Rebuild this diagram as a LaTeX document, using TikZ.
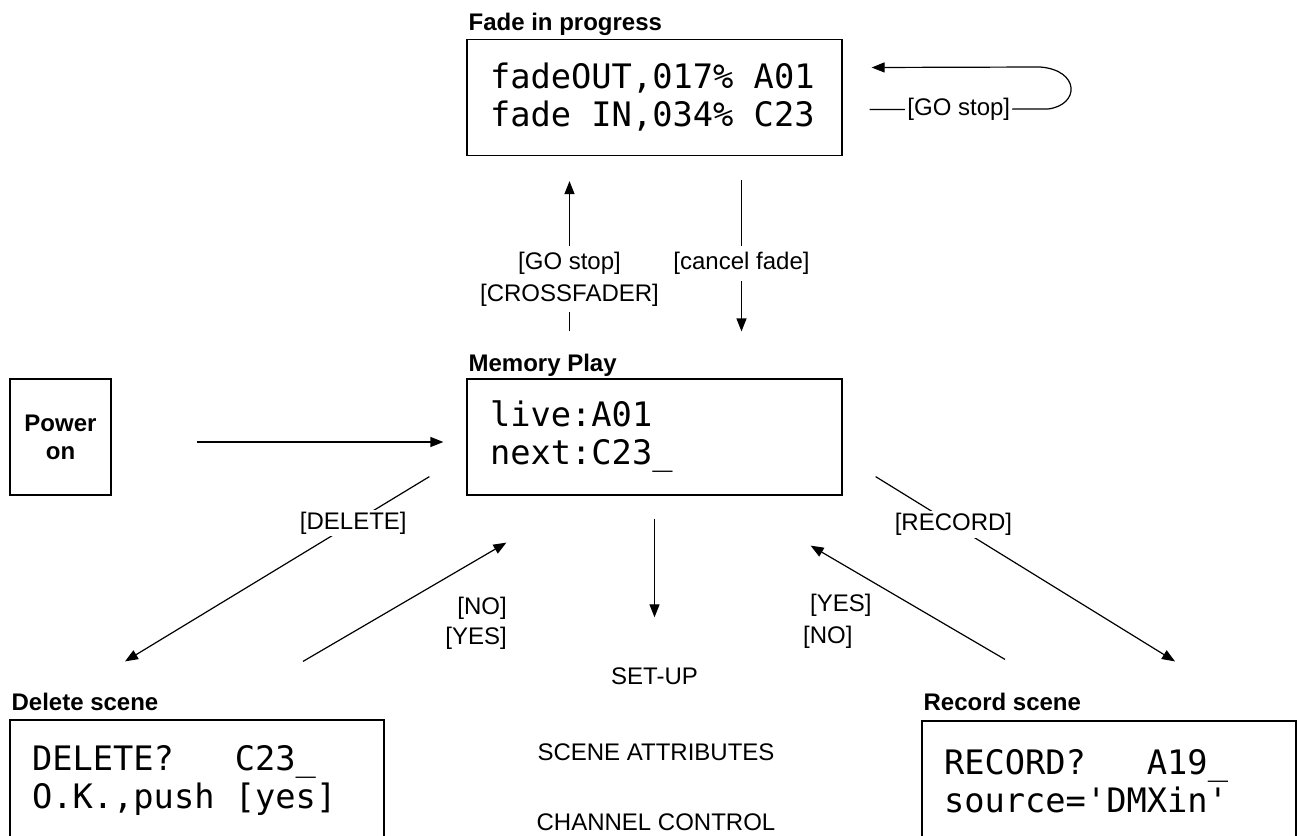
\documentclass[tikz,border=0pt]{standalone}
\usepackage{fontspec}
\setmainfont{Liberation Sans}
\newfontfamily\lcdfont[Ligatures=TeXOff]{DejaVu Sans Mono}
\newcommand{\esp}{\hphantom{0}}
\usetikzlibrary{arrows.meta}

\begin{document}
\begin{tikzpicture}[x=1pt,y=-1pt]
\tikzstyle{tela}=[draw, line width=1.2pt, minimum height=116pt, text width=329pt, inner xsep=23pt, align=left, font=\lcdfont\fontsize{33.7}{38}\selectfont]
\tikzstyle{titulo}=[anchor=base west, inner sep=0pt, font=\bfseries\fontsize{24}{28}\selectfont]
\tikzstyle{rotulo}=[fill=white, inner xsep=2pt, inner ysep=6pt, align=center, font=\fontsize{24}{32}\selectfont]
\tikzstyle{texto}=[inner sep=0pt, font=\fontsize{24}{28}\selectfont]
\tikzstyle{seta}=[line width=1.2pt, -{Triangle[length=13pt,width=10pt]}]
\useasboundingbox (0,0) rectangle (1300,835);

% telas
\node[tela] (fade) at (654.5,97.5) {fadeOUT,017\%\esp A01\\fade\esp IN,034\%\esp C23};
\node[tela] (memoria) at (654.5,437) {live:A01\\next:C23\_};
\node[tela, minimum height=120pt, text width=330pt, inner xsep=22pt] (apagar) at (197,780) {DELETE?\esp\esp\esp C23\_\\O.K.,push\esp[yes]};
\node[tela, minimum height=120pt, text width=330pt, inner xsep=22pt] (gravar) at (1109,781) {RECORD?\esp\esp\esp A19\_\\source='DMXin'};
\node[draw, line width=1.2pt, minimum width=101pt, minimum height=116pt, align=center, font=\bfseries\fontsize{24}{28}\selectfont] (ligar) at (60.5,437) {Power\\on};

% titulos
\node[titulo] (tfade) at ([xshift=2pt,yshift=8pt]fade.north west) {Fade in progress};
\node[titulo] (tmemoria) at ([xshift=2pt,yshift=7pt]memoria.north west) {Memory Play};
\node[titulo] (tapagar) at ([xshift=2pt,yshift=9pt]apagar.north west) {Delete scene};
\node[titulo] (tgravar) at ([xshift=2pt,yshift=10pt]gravar.north west) {Record scene};

% menus
\node[texto] (setup) at (654.5,676) {SET-UP};
\node[texto] (atributos) at (656,752) {SCENE ATTRIBUTES};
\node[texto] (canais) at (656,822) {CHANNEL CONTROL};

% setas
\draw[seta] ([xshift=85pt,yshift=-5pt]ligar.east) -- ([xshift=-23pt,yshift=-5pt]memoria.west);
\draw[seta] ([xshift=-85pt,yshift=47pt]memoria.north) -- node[rotulo, pos=0.35]{[GO stop]\\{}[CROSSFADER]} ([xshift=-85pt,yshift=-25pt]fade.south);
\draw[seta] ([xshift=87pt,yshift=-24pt]fade.south) -- node[rotulo, pos=0.55]{[cancel fade]} ([xshift=87pt,yshift=47pt]memoria.north);
\coordinate (laco) at ([xshift=27pt,yshift=-12pt]fade.east);
\coordinate (laco2) at ([xshift=29pt,yshift=30pt]fade.east);
\draw[seta] (laco) -- node[rotulo, inner ysep=2pt]{[GO stop]} (1048,109) .. controls (1080,105) and (1080,70) .. (1040,67) -- (laco2);
\draw[seta] ([yshift=-23pt]memoria.south) -- ([yshift=50pt]setup.north);
\draw[seta] ([xshift=-37pt,yshift=19pt]memoria.south west) -- node[rotulo, pos=0.25, inner ysep=2pt]{[DELETE]} ([xshift=-72pt,yshift=58pt]apagar.north);
\draw[seta] ([xshift=106pt,yshift=58pt]apagar.north) -- ([xshift=40pt,yshift=-47pt]memoria.south west);
\draw[seta] ([xshift=33pt,yshift=19pt]memoria.south east) -- node[rotulo, pos=0.26, inner ysep=2pt]{[RECORD]} ([xshift=66pt,yshift=59pt]gravar.north);
\draw[seta] ([xshift=-104pt,yshift=61pt]gravar.north) -- ([xshift=-32pt,yshift=-50pt]memoria.south east);

% respostas
\node[texto, anchor=east] (nao1) at (507,608) {[NO]};
\node[texto, anchor=east] (sim1) at (507,638) {[YES]};
\node[texto, anchor=west] (sim2) at (810,605) {[YES]};
\node[texto, anchor=west] (nao2) at (803,637) {[NO]};
\end{tikzpicture}
\end{document}
